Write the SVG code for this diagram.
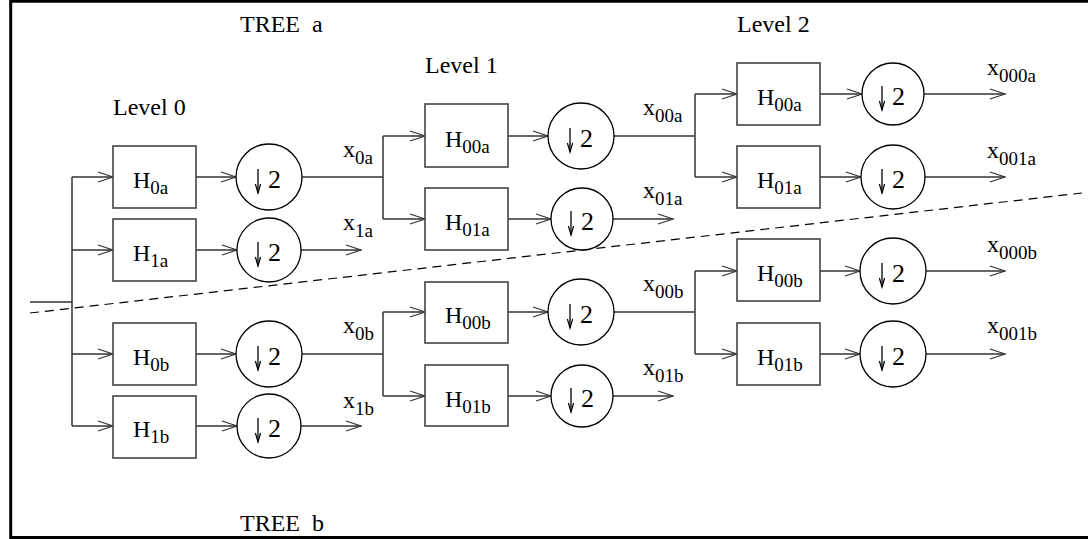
<svg xmlns="http://www.w3.org/2000/svg" width="1088" height="539" viewBox="0 0 1088 539">
<defs>
<marker id="arr" markerUnits="userSpaceOnUse" markerWidth="17" markerHeight="12" refX="15" refY="5" orient="auto" overflow="visible">
<path d="M0,0 L15,5 L0,10" fill="none" stroke="#333" stroke-width="1.2"/>
</marker>
<marker id="dn" markerUnits="userSpaceOnUse" markerWidth="8" markerHeight="10" refX="9" refY="2.6" orient="auto" overflow="visible">
<path d="M0,0 L9,2.6 L0,5.2" fill="none" stroke="#000" stroke-width="1.2"/>
</marker>
</defs>
<style>
text{font-family:"Liberation Serif","Times New Roman",serif;fill:#000;font-size:24px;white-space:pre}
.sub{font-size:19px}
.box{fill:#fff;stroke:#444;stroke-width:1.6}
.circ{fill:#fff;stroke:#000;stroke-width:1.3}
.two{font-size:26px}
.da{stroke:#000;stroke-width:1.3;marker-end:url(#dn)}
.w{fill:none;stroke:#333;stroke-width:1.5}
.a{fill:none;stroke:#333;stroke-width:1.5;marker-end:url(#arr)}
.dash{fill:none;stroke:#000;stroke-width:1.2;stroke-dasharray:9 6}
.frame{fill:none;stroke:#000;stroke-width:3}
</style>
<path class="frame" d="M1088,1.3 H10.7 V537.5 H1088"/>
<g id="labels">
<text x="240" y="32" xml:space="preserve">TREE  a</text>
<text x="240" y="531" xml:space="preserve">TREE  b</text>
<text x="113" y="115">Level 0</text>
<text x="425" y="73">Level 1</text>
<text x="737" y="32">Level 2</text>
<text x="343" y="157">x<tspan class="sub" dy="7">0a</tspan></text>
<text x="343" y="230">x<tspan class="sub" dy="7">1a</tspan></text>
<text x="343" y="333">x<tspan class="sub" dy="7">0b</tspan></text>
<text x="343" y="408">x<tspan class="sub" dy="7">1b</tspan></text>
<text x="643" y="115">x<tspan class="sub" dy="7">00a</tspan></text>
<text x="643" y="198">x<tspan class="sub" dy="7">01a</tspan></text>
<text x="643" y="291">x<tspan class="sub" dy="7">00b</tspan></text>
<text x="643" y="375">x<tspan class="sub" dy="7">01b</tspan></text>
<text x="987" y="75">x<tspan class="sub" dy="7">000a</tspan></text>
<text x="987" y="158">x<tspan class="sub" dy="7">001a</tspan></text>
<text x="987" y="252">x<tspan class="sub" dy="7">000b</tspan></text>
<text x="987" y="333">x<tspan class="sub" dy="7">001b</tspan></text>
</g>
<g id="connectors">
<path class="w" d="M30,302 H72 M72,177 V426"/>
<path class="a" d="M72,177 H113"/>
<path class="a" d="M72,250 H113"/>
<path class="a" d="M72,354 H113"/>
<path class="a" d="M72,426 H113"/>
<path class="a" d="M196,177 H236"/>
<path class="a" d="M196,250 H237"/>
<path class="a" d="M196,354 H236"/>
<path class="a" d="M196,426 H237"/>
<path class="w" d="M302,177 H383 M383,136 V219"/>
<path class="a" d="M383,136 H425"/>
<path class="a" d="M383,219 H425"/>
<path class="a" d="M301,250 H361"/>
<path class="w" d="M302,354 H383 M383,312 V396"/>
<path class="a" d="M383,312 H425"/>
<path class="a" d="M383,396 H425"/>
<path class="a" d="M301,426 H361"/>
<path class="a" d="M508,136 H548"/>
<path class="a" d="M508,219 H551"/>
<path class="a" d="M508,312 H548"/>
<path class="a" d="M508,396 H551"/>
<path class="w" d="M614,136 H695 M695,94 V177"/>
<path class="a" d="M695,94 H737"/>
<path class="a" d="M695,177 H737"/>
<path class="a" d="M613,219 H673"/>
<path class="w" d="M614,312 H695 M695,271 V354"/>
<path class="a" d="M695,271 H737"/>
<path class="a" d="M695,354 H737"/>
<path class="a" d="M613,396 H673"/>
<path class="a" d="M820,94 H862"/>
<path class="a" d="M820,177 H861"/>
<path class="a" d="M820,271 H860"/>
<path class="a" d="M820,354 H860"/>
<path class="a" d="M924,94 H1005"/>
<path class="a" d="M925,177 H1005"/>
<path class="a" d="M926,271 H1005"/>
<path class="a" d="M926,354 H1005"/>
<path class="dash" d="M30,313 L1082,193"/>
</g>
<g id="H0a"><rect class="box" x="113" y="146" width="83" height="62"/><text x="133" y="188">H<tspan class="sub" dy="6">0a</tspan></text></g>
<g id="D0a"><circle class="circ" cx="269" cy="177" r="33"/><line class="da" x1="258" y1="169" x2="258" y2="193"/><text class="two" x="268" y="188">2</text></g>
<g id="H1a"><rect class="box" x="113" y="219" width="83" height="62"/><text x="133" y="261">H<tspan class="sub" dy="6">1a</tspan></text></g>
<g id="D1a"><circle class="circ" cx="269" cy="250" r="32"/><line class="da" x1="258" y1="242" x2="258" y2="266"/><text class="two" x="268" y="261">2</text></g>
<g id="H0b"><rect class="box" x="113" y="323" width="83" height="62"/><text x="133" y="365">H<tspan class="sub" dy="6">0b</tspan></text></g>
<g id="D0b"><circle class="circ" cx="269" cy="354" r="33"/><line class="da" x1="258" y1="346" x2="258" y2="370"/><text class="two" x="268" y="365">2</text></g>
<g id="H1b"><rect class="box" x="113" y="396" width="83" height="62"/><text x="133" y="437">H<tspan class="sub" dy="6">1b</tspan></text></g>
<g id="D1b"><circle class="circ" cx="269" cy="426" r="32"/><line class="da" x1="258" y1="418" x2="258" y2="442"/><text class="two" x="268" y="437">2</text></g>
<g id="H00a_1"><rect class="box" x="425" y="104" width="83" height="63"/><text x="445" y="147">H<tspan class="sub" dy="6">00a</tspan></text></g>
<g id="D00a_1"><circle class="circ" cx="581" cy="136" r="33"/><line class="da" x1="570" y1="128" x2="570" y2="152"/><text class="two" x="580" y="147">2</text></g>
<g id="H01a_1"><rect class="box" x="425" y="188" width="83" height="62"/><text x="445" y="230">H<tspan class="sub" dy="6">01a</tspan></text></g>
<g id="D01a_1"><circle class="circ" cx="582" cy="219" r="31"/><line class="da" x1="571" y1="211" x2="571" y2="235"/><text class="two" x="581" y="230">2</text></g>
<g id="H00b_1"><rect class="box" x="425" y="282" width="83" height="61"/><text x="445" y="323">H<tspan class="sub" dy="6">00b</tspan></text></g>
<g id="D00b_1"><circle class="circ" cx="581" cy="312" r="33"/><line class="da" x1="570" y1="304" x2="570" y2="328"/><text class="two" x="580" y="323">2</text></g>
<g id="H01b_1"><rect class="box" x="425" y="365" width="83" height="61"/><text x="445" y="407">H<tspan class="sub" dy="6">01b</tspan></text></g>
<g id="D01b_1"><circle class="circ" cx="582" cy="396" r="31"/><line class="da" x1="571" y1="388" x2="571" y2="412"/><text class="two" x="581" y="407">2</text></g>
<g id="H00a_2"><rect class="box" x="737" y="63" width="83" height="62"/><text x="757" y="105">H<tspan class="sub" dy="6">00a</tspan></text></g>
<g id="D00a_2"><circle class="circ" cx="893" cy="94" r="31"/><line class="da" x1="882" y1="86" x2="882" y2="110"/><text class="two" x="892" y="105">2</text></g>
<g id="H01a_2"><rect class="box" x="737" y="146" width="83" height="62"/><text x="757" y="188">H<tspan class="sub" dy="6">01a</tspan></text></g>
<g id="D01a_2"><circle class="circ" cx="893" cy="177" r="32"/><line class="da" x1="882" y1="169" x2="882" y2="193"/><text class="two" x="892" y="188">2</text></g>
<g id="H00b_2"><rect class="box" x="737" y="239" width="83" height="62"/><text x="757" y="281">H<tspan class="sub" dy="6">00b</tspan></text></g>
<g id="D00b_2"><circle class="circ" cx="893" cy="271" r="33"/><line class="da" x1="882" y1="263" x2="882" y2="287"/><text class="two" x="892" y="282">2</text></g>
<g id="H01b_2"><rect class="box" x="737" y="323" width="83" height="62"/><text x="757" y="365">H<tspan class="sub" dy="6">01b</tspan></text></g>
<g id="D01b_2"><circle class="circ" cx="893" cy="354" r="33"/><line class="da" x1="882" y1="346" x2="882" y2="370"/><text class="two" x="892" y="365">2</text></g>
</svg>
